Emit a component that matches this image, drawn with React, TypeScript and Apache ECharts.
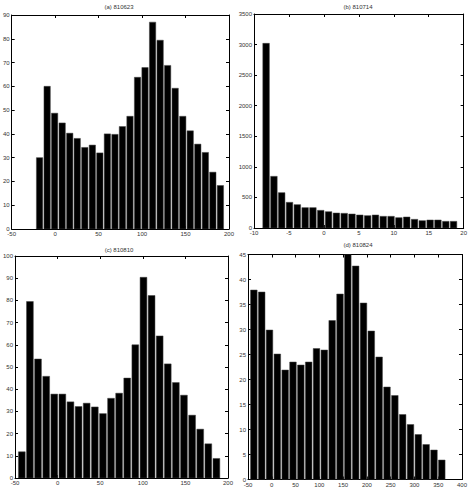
import React, { useEffect, useRef } from 'react';
import * as echarts from 'echarts';

// ---- data ----
const titleA = '(a) 810623';
const titleB = '(b) 810714';
const titleC = '(c) 810810';
const titleD = '(d) 810824';

const centersA = [-17.9, -9.2, -0.6, 8.1, 16.8, 25.4, 34.1, 42.8, 51.4, 60.1, 68.8, 77.4, 86.1, 94.8, 103.4, 112.1, 120.8, 129.4, 138.1, 146.8, 155.4, 164.1, 172.8, 181.4, 190.1];
const countsA = [30, 60, 48.7, 44.6, 40.3, 38.1, 34.3, 35.3, 32, 40, 39.8, 43.1, 47.4, 63.8, 67.9, 87, 79.4, 68.8, 59.2, 47.4, 41.3, 35.7, 32.2, 23.9, 18.3];

const centersB = [-8.27, -7.15, -6.04, -4.92, -3.8, -2.68, -1.57, -0.45, 0.67, 1.79, 2.91, 4.02, 5.14, 6.26, 7.38, 8.49, 9.61, 10.73, 11.85, 12.97, 14.08, 15.2, 16.32, 17.44, 18.55];
const countsB = [3020, 845, 578, 420, 382, 333, 333, 289, 267, 245, 240, 229, 213, 202, 213, 191, 191, 169, 180, 142, 120, 131, 131, 109, 109];

const centersC = [-42.0, -32.5, -23.0, -13.4, -3.9, 5.6, 15.1, 24.6, 34.1, 43.7, 53.2, 62.7, 72.2, 81.7, 91.2, 100.8, 110.3, 119.8, 129.3, 138.8, 148.3, 157.9, 167.4, 176.9, 186.4];
const countsC = [11.8, 79.5, 53.6, 45.8, 37.8, 37.8, 34.3, 32.2, 33.7, 32, 29, 35.9, 38.2, 45, 60, 90.4, 82.2, 64, 51.4, 43, 37.3, 28.3, 22, 15.4, 8.8];

const centersD = [-37.7, -21.2, -4.8, 11.7, 28.2, 44.6, 61.1, 77.6, 94.1, 110.5, 127.0, 143.5, 159.9, 176.4, 192.9, 209.3, 225.8, 242.3, 258.8, 275.2, 291.7, 308.2, 324.6, 341.1, 357.5];
const countsD = [37.9, 37.5, 29.9, 25.1, 21.9, 23.5, 22.9, 23.5, 26.2, 25.9, 31.8, 37.1, 45, 42.7, 35.3, 29.7, 24.5, 18.5, 16.8, 13, 11, 9, 7, 5.9, 3.9];

// axis ranges: [min, max, interval]
const xAxisA = [-50, 200, 50];
const yAxisA = [0, 90, 10];
const xAxisB = [-10, 20, 5];
const yAxisB = [0, 3500, 500];
const xAxisC = [-50, 200, 50];
const yAxisC = [0, 100, 10];
const xAxisD = [-50, 400, 50];
const yAxisD = [0, 45, 5];

// ---- layout ----
const BAR_FRAC = 0.84;
const FONT = 'Liberation Sans';
const FS = 6;

const panels = [
  { title: titleA, centers: centersA, counts: countsA, x: xAxisA, y: yAxisA,
    grid: { left: 10, top: 15, width: 219, height: 214 }, tpos: [119, 7] },
  { title: titleB, centers: centersB, counts: countsB, x: xAxisB, y: yAxisB,
    grid: { left: 254, top: 14, width: 212, height: 214 }, tpos: [358, 7] },
  { title: titleC, centers: centersC, counts: countsC, x: xAxisC, y: yAxisC,
    grid: { left: 9, top: 256, width: 219, height: 222 }, tpos: [119, 249.5] },
  { title: titleD, centers: centersD, counts: countsD, x: xAxisD, y: yAxisD,
    grid: { left: 248, top: 254.5, width: 220, height: 225 }, tpos: [358, 244.5] },
];

function buildOption() {
  const grid: any[] = [];
  const xAxis: any[] = [];
  const yAxis: any[] = [];
  const series: any[] = [];
  const graphic: any[] = [];

  const axisBase = (show: boolean) => ({
    type: 'value',
    splitLine: { show: false },
    axisLine: { show: true, onZero: false, lineStyle: { color: '#000', width: 1 } },
    axisTick: { show: true, inside: true, length: 3, lineStyle: { color: '#000', width: 1 } },
    axisLabel: {
      show, fontSize: FS, color: '#333', fontFamily: FONT, margin: 2,
      formatter: (v: number) => String(v),
    },
  });

  panels.forEach((p, i) => {
    grid.push({ ...p.grid, containLabel: false });
    xAxis.push({ ...axisBase(true), gridIndex: i, position: 'bottom', min: p.x[0], max: p.x[1], interval: p.x[2] });
    xAxis.push({ ...axisBase(false), gridIndex: i, position: 'top', min: p.x[0], max: p.x[1], interval: p.x[2] });
    yAxis.push({ ...axisBase(true), gridIndex: i, position: 'left', min: p.y[0], max: p.y[1], interval: p.y[2] });
    yAxis.push({ ...axisBase(false), gridIndex: i, position: 'right', min: p.y[0], max: p.y[1], interval: p.y[2] });
    const binW = p.centers[1] - p.centers[0];
    series.push({
      type: 'custom',
      xAxisIndex: 2 * i,
      yAxisIndex: 2 * i,
      clip: true,
      data: p.centers.map((c, j) => [c, p.counts[j]]),
      renderItem: (params: any, api: any) => {
        const c = api.value(0);
        const v = api.value(1);
        const half = (binW * BAR_FRAC) / 2;
        const p0 = api.coord([c - half, v]);
        const p1 = api.coord([c + half, 0]);
        return {
          type: 'rect',
          shape: { x: p0[0], y: p0[1], width: p1[0] - p0[0], height: p1[1] - p0[1] },
          style: { fill: '#000', stroke: '#444', lineWidth: 0.5 },
        };
      },
    });
    graphic.push({
      type: 'text',
      x: p.tpos[0],
      y: p.tpos[1],
      style: { text: p.title, fontSize: FS, fontFamily: FONT, fill: '#333', align: 'center', verticalAlign: 'middle' },
    });
  });

  return { animation: false, backgroundColor: '#fff', grid, xAxis, yAxis, series, graphic };
}

export default function App() {
  const ref = useRef<HTMLDivElement>(null);
  useEffect(() => {
    if (!ref.current) return;
    const chart = echarts.init(ref.current, null, { renderer: 'svg' });
    chart.setOption(buildOption() as any);
    return () => chart.dispose();
  }, []);
  return <div ref={ref} style={{ position: 'absolute', left: 0, top: 0, width: 470, height: 491 }} />;
}
